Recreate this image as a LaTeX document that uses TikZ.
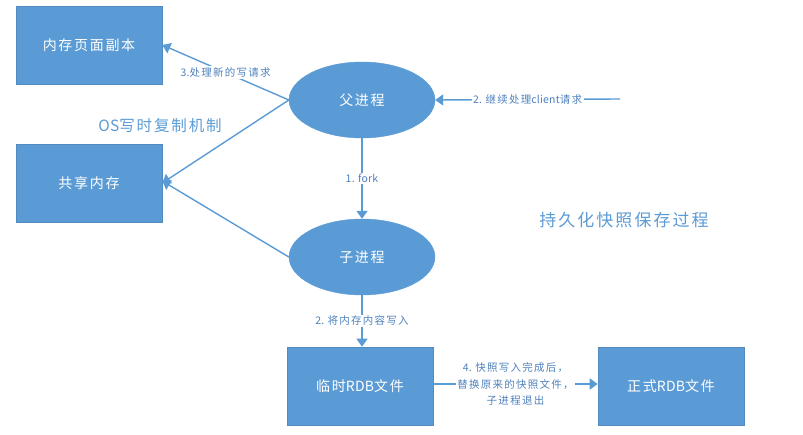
\documentclass[tikz,border=0pt]{standalone}
\usepackage{fontspec}
\setmainfont{Noto Sans CJK SC}[LetterSpace=12]
\newfontfamily\latfont{Noto Sans CJK SC}[LetterSpace=2]
\newcommand\lat[1]{{\latfont #1}}
\usetikzlibrary{arrows.meta,shapes.geometric}
\definecolor{blu}{HTML}{5B9BD5}
\definecolor{lbl}{HTML}{4F81BD}
\begin{document}
\begin{tikzpicture}[x=1pt,y=-1pt,
  box/.style={draw=blu!90!black,line width=0.6pt,fill=blu,minimum width=146pt,minimum height=78pt,text=white,font=\fontsize{14}{16}\selectfont},
  proc/.style={ellipse,fill=blu,draw=blu,minimum width=146pt,minimum height=76pt,text=white,font=\fontsize{14}{16}\selectfont},
  conn/.style={draw=blu,line width=1.4pt,-{Triangle[width=11pt,length=8pt]}},
  lab/.style={font=\fontsize{10.5}{16.5}\selectfont,text=lbl,fill=white,inner sep=1.5pt,align=center}]
\useasboundingbox (0,0) rectangle (803,435);
\node[box] (copy) at (89,45) {内存页面副本};
\node[box] (shared) at (89,183) {共享内存};
\node[proc] (parent) at (362,100) {父进程};
\node[proc] (child) at (362,257) {子进程};
\node[box] (tmp) at (360,386) {临时\lat{RDB}文件};
\node[box] (rdb) at (671,386) {正式\lat{RDB}文件};
\coordinate (client) at (620,99);
\node[font=\fontsize{15.5}{18}\selectfont,text=blu] (os) at (160,126) {\lat{OS}写时复制机制};
\node[font=\fontsize{17}{20}\selectfont,text=blu] (title) at (624,220) {持久化快照保存过程};
\draw[conn] (client) -- node[lab]{\lat{2. }继续处理\lat{client}请求} (parent.east);
\draw[conn] (parent.west) -- node[lab]{\lat{3.}处理新的写请求} (copy.east);
\draw[conn] (parent.west) -- (shared.east);
\draw[conn] (child.west) -- ([yshift=2pt]shared.east);
\draw[conn] (parent.south) -- node[lab]{\lat{1. fork}} (child.north);
\draw[conn] (child.south) -- node[lab]{\lat{2. }将内存内容写入} ([xshift=2pt]tmp.north);
\draw[conn] ([yshift=2pt]tmp.east) -- node[lab]{\lat{4. }快照写入完成后，\\替换原来的快照文件，\\子进程退出} ([yshift=2pt]rdb.west);
\end{tikzpicture}
\end{document}
